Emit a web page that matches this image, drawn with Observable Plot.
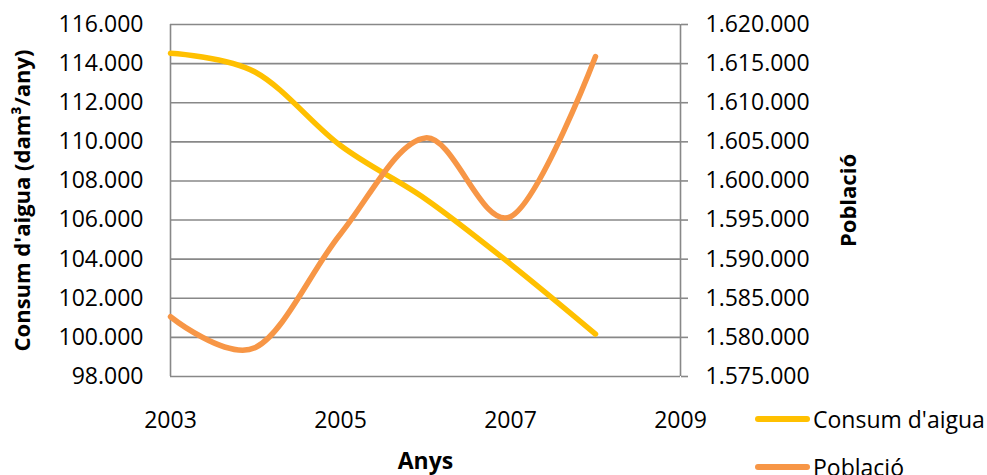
<!DOCTYPE html>
<html>
<head>
<meta charset="utf-8">
<script src="https://cdn.jsdelivr.net/npm/d3@7"></script>
<script src="https://cdn.jsdelivr.net/npm/@observablehq/plot@0.6"></script>
<style>
  html, body { margin: 0; padding: 0; background: #fff; }
  #wrap { position: relative; width: 987px; height: 475px; overflow: hidden; }
  .legend { position: absolute; left: 755px; font-family: "Open Sans", sans-serif; font-size: 23px; color: #000; }
  .legend .item { position: absolute; left: 0; display: flex; align-items: center; white-space: nowrap; }
  .legend .swatch { width: 55px; height: 6px; border-radius: 3px; margin-right: 3px; }
</style>
</head>
<body>
<div id="wrap"></div>
<script>
// Water consumption (dam³/year) and population, 2003–2008
const years = [2003, 2004, 2005, 2006, 2007, 2008];
const consum = [114530, 113560, 109810, 107080, 103750, 100170];
const poblacio = [1582640, 1578710, 1593230, 1605500, 1595430, 1615910];

const xTicks = [2003, 2005, 2007, 2009];
const leftTicks = d3.range(98000, 116001, 2000);
const rightTicks = d3.range(1575000, 1620001, 5000);

const seriesNames = ["Consum d'aigua", "Població"];
const seriesColors = ["#FFC000", "#F79646"];

// Catalan number format: dot as thousands separator
const fmt = d3.formatLocale({decimal: ",", thousands: ".", grouping: [3], currency: ["", " €"]}).format(",d");

// Map the population axis onto the consumption axis (shared pixel range)
const leftDomain = [98000, 116000];
const rightDomain = [1575000, 1620000];
const toLeft = d3.scaleLinear().domain(rightDomain).range(leftDomain);

const consumData = years.map((y, i) => ({year: y, value: consum[i]}));
const poblacioData = years.map((y, i) => ({year: y, value: toLeft(poblacio[i])}));

const grid = "#888888";

const chart = Plot.plot({
  width: 987,
  height: 475,
  marginLeft: 170,
  marginRight: 307,
  marginTop: 24,
  marginBottom: 99,
  style: {fontFamily: "Open Sans, sans-serif", fontSize: "23px", color: "#000", background: "transparent"},
  x: {domain: [2003, 2009]},
  y: {domain: leftDomain},
  marks: [
    Plot.gridY(leftTicks, {stroke: grid, strokeOpacity: 1, strokeWidth: 1.6}),
    Plot.ruleX([2003, 2009], {stroke: grid, strokeWidth: 1.6}),
    Plot.axisY(leftTicks, {anchor: "left", tickSize: 0, tickPadding: 27, tickFormat: fmt, label: null, fill: "#000"}),
    Plot.axisY(rightTicks.map(toLeft), {
      anchor: "right", tickSize: 7, tickPadding: 18, stroke: grid, strokeWidth: 1.6,
      tickFormat: v => fmt(Math.round(toLeft.invert(v))), label: null, fill: "#000"
    }),
    Plot.axisX(xTicks, {anchor: "bottom", tickSize: 0, tickPadding: 35, tickFormat: d => String(d), label: null, fill: "#000"}),
    Plot.line(consumData, {x: "year", y: "value", stroke: seriesColors[0], strokeWidth: 5.5, curve: "cardinal", strokeLinecap: "round"}),
    Plot.line(poblacioData, {x: "year", y: "value", stroke: seriesColors[1], strokeWidth: 5.5, curve: "cardinal", strokeLinecap: "round"}),
    Plot.text(["Consum d'aigua (dam³/any)"], {frameAnchor: "left", dx: -148, rotate: -90, textAnchor: "middle", fontWeight: "bold", fontSize: 22, fill: "#000"}),
    Plot.text(["Població"], {frameAnchor: "right", dx: 168, rotate: -90, textAnchor: "middle", fontWeight: "bold", fontSize: 22, fill: "#000"}),
    Plot.text(["Anys"], {frameAnchor: "bottom", dy: 92, fontWeight: "bold", fontSize: 23, fill: "#000"})
  ]
});

const wrap = document.getElementById("wrap");
wrap.appendChild(chart);

// Legend to the right of the x axis
const legend = document.createElement("div");
legend.className = "legend";
legend.style.top = "0px";
const legendTops = [419, 467];
seriesNames.forEach((name, i) => {
  const item = document.createElement("div");
  item.className = "item";
  item.style.top = (legendTops[i] - 16) + "px";
  item.style.height = "32px";
  const sw = document.createElement("span");
  sw.className = "swatch";
  sw.style.background = seriesColors[i];
  const label = document.createElement("span");
  label.textContent = name;
  item.appendChild(sw);
  item.appendChild(label);
  legend.appendChild(item);
});
wrap.appendChild(legend);
</script>
</body>
</html>
